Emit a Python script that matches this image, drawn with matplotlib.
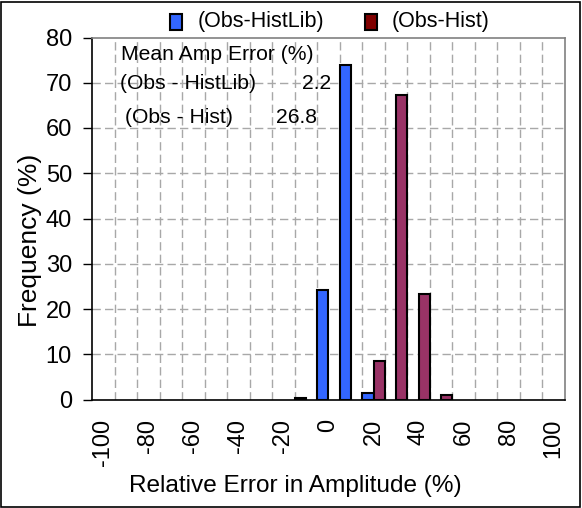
import matplotlib
matplotlib.use("Agg")
import matplotlib.pyplot as plt
import numpy as np
from matplotlib.patches import Rectangle

plt.rcParams['font.family'] = ['Liberation Sans', 'DejaVu Sans']

# relative error bins (%) and frequencies (%)
bins = [-100, -90, -80, -70, -60, -50, -40, -30, -20, -10,
        0, 10, 20, 30, 40, 50, 60, 70, 80, 90, 100]
obs_histlib = [0, 0, 0, 0, 0, 0, 0, 0, 0, 0.35,
               24.2, 74.0, 1.5, 0, 0, 0, 0, 0, 0, 0, 0]
obs_hist = [0, 0, 0, 0, 0, 0, 0, 0, 0, 0,
            0, 0, 8.5, 67.4, 23.4, 1.0, 0, 0, 0, 0, 0]
tick_labels = [str(b) for b in bins[::2]]
series_names = ['(Obs-HistLib)', '(Obs-Hist)']

blue = '#3366FF'
plum = '#993366'
maroon = '#800000'

W, H = 582, 508
fig = plt.figure(figsize=(W / 100, H / 100), dpi=100)
ax = fig.add_axes([92 / W, 1 - 399.5 / H, 473 / W, 362 / H])

x = np.arange(len(bins))
w = 0.5
for xi, v in zip(x, obs_histlib):
    if v > 0:
        ax.bar(xi - w / 2, v, width=w, color=blue, edgecolor='black', linewidth=1.5, zorder=3)
for xi, v in zip(x, obs_hist):
    if v > 0:
        ax.bar(xi + w / 2, v, width=w, color=plum, edgecolor='black', linewidth=1.5, zorder=3)

ax.set_xlim(-0.5, len(bins) - 0.5)
ax.set_ylim(0, 80)
ax.set_yticks(range(0, 81, 10))
ax.set_xticks(x[::2])
ax.set_xticklabels(tick_labels, rotation=90, va='top', ha='center')
ax.tick_params(axis='x', length=0, pad=14, labelsize=17)
ax.tick_params(axis='y', length=6.5, width=1, pad=8, labelsize=17, direction='out')

# dashed grid: horizontal at each 10, vertical at category boundaries
for yv in range(10, 80, 10):
    ax.axhline(yv, color='#A8A8A8', linestyle=(0, (6, 3)), linewidth=1, zorder=1)
for xb in np.arange(0.5, len(bins) - 1, 1.0):
    ax.axvline(xb, color='#A8A8A8', linestyle=(0, (6, 3)), linewidth=1, zorder=1)

ax.spines['left'].set_color('black')
ax.spines['bottom'].set_color('black')
ax.spines['top'].set_color('#808080')
ax.spines['right'].set_color('#808080')
for s in ax.spines.values():
    s.set_linewidth(1.2)

fs = 15.2
ax.text(0.061, 0.954, 'Mean Amp Error (%)', transform=ax.transAxes, fontsize=fs, va='center', ha='left')
ax.text(0.059, 0.874, '(Obs - HistLib)', transform=ax.transAxes, fontsize=fs, va='center', ha='left')
ax.text(0.505, 0.874, '2.2', transform=ax.transAxes, fontsize=fs, va='center', ha='right')
ax.text(0.070, 0.780, '(Obs - Hist)', transform=ax.transAxes, fontsize=fs, va='center', ha='left')
ax.text(0.476, 0.780, '26.8', transform=ax.transAxes, fontsize=fs, va='center', ha='right')

fig.text(295.5 / W, 1 - 486 / H, 'Relative Error in Amplitude (%)', fontsize=17.6, ha='center', va='center')
fig.text(30 / W, 1 - 240 / H, 'Frequency (%)', fontsize=19, ha='center', va='center', rotation=90)

# legend drawn by hand above the plot
for (kx, tx), col, name in zip([(170, 198), (365, 392)], [blue, maroon], series_names):
    fig.add_artist(Rectangle((kx / W, 1 - 30 / H), 12 / W, 16 / H, transform=fig.transFigure,
                             facecolor=col, edgecolor='black', linewidth=1.5))
    fig.text(tx / W, 1 - 22 / H, name, fontsize=15.5, ha='left', va='center')

fig.add_artist(Rectangle((0.002, 0.002), 0.995, 0.995, transform=fig.transFigure,
                         fill=False, edgecolor='black', linewidth=1.2))

fig.savefig('out.png', dpi=100)
